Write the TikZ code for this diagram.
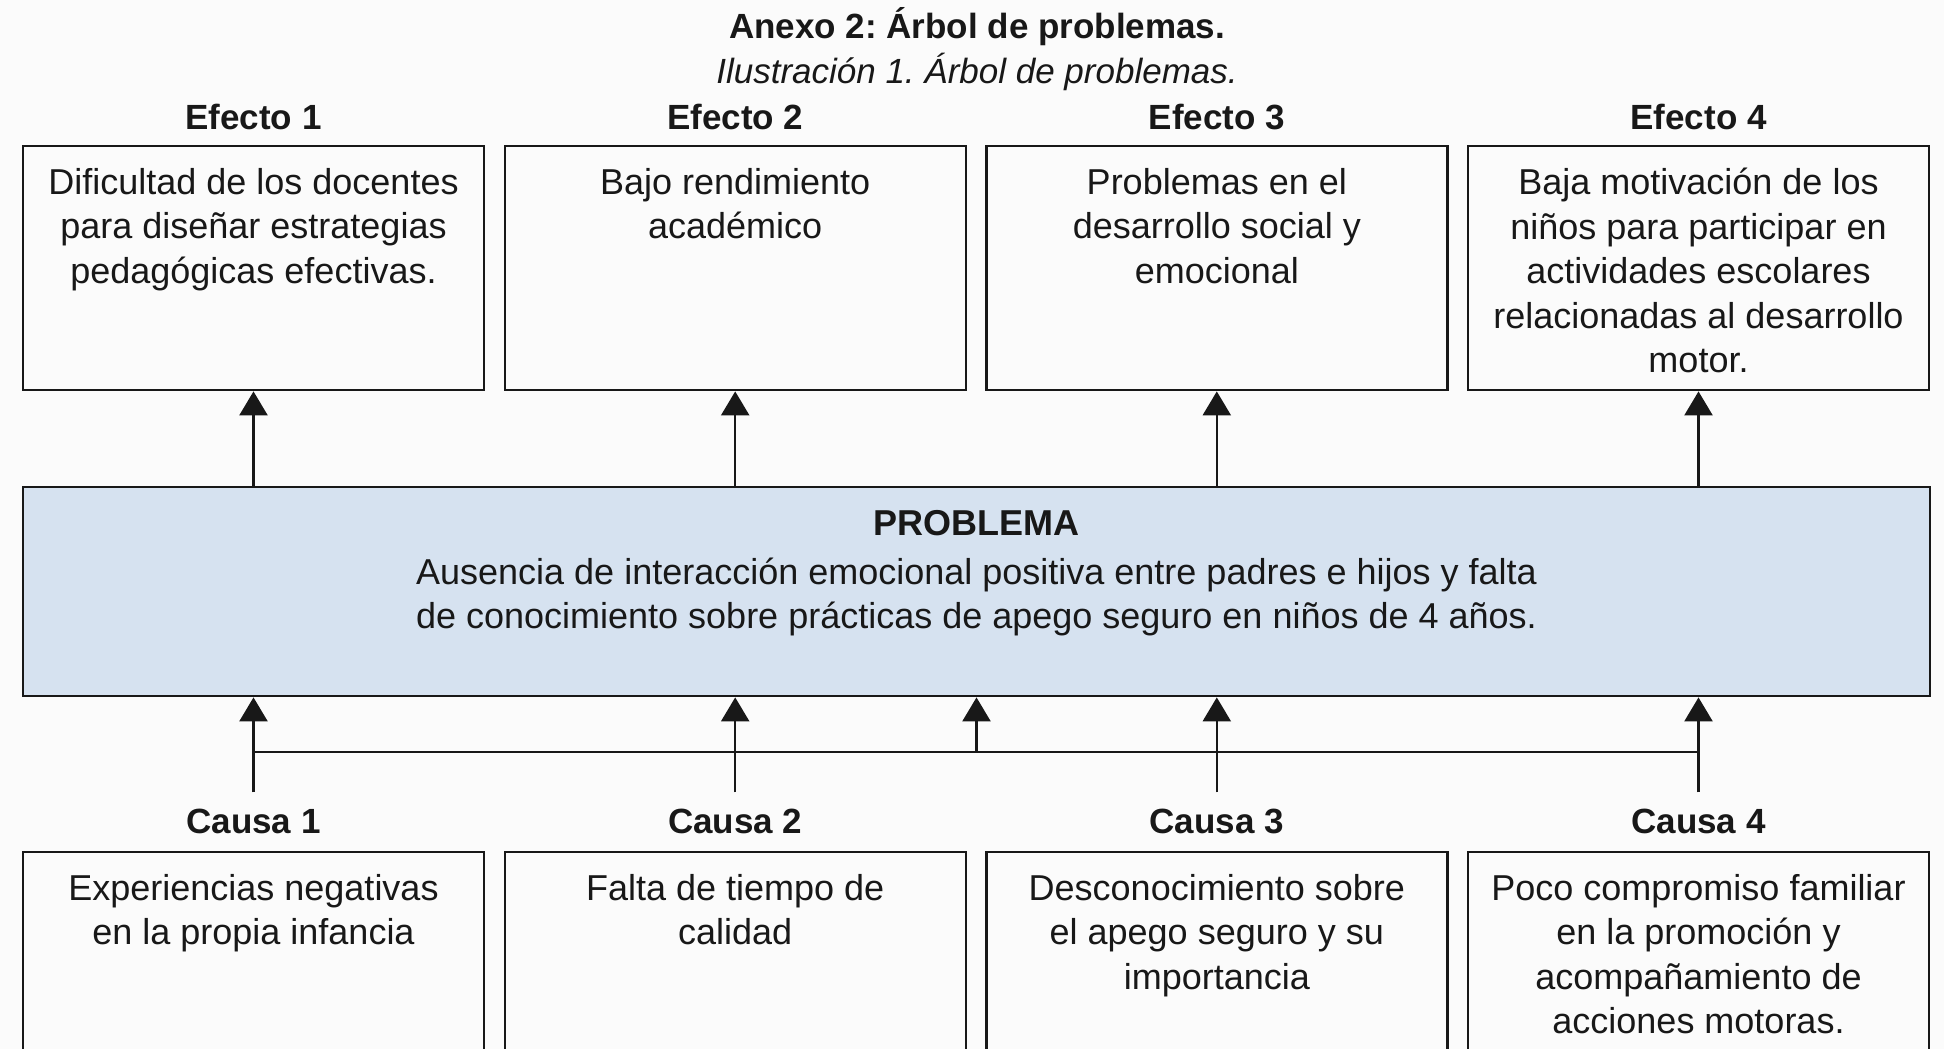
\documentclass[tikz,border=0pt]{standalone}
\usepackage{fontspec}
\setmainfont{Liberation Sans}
\usepackage{xcolor}
\usetikzlibrary{positioning}
\usetikzlibrary{arrows.meta}
\frenchspacing

\definecolor{probfill}{RGB}{214,226,240}
\definecolor{ink}{RGB}{24,24,24}
\definecolor{paper}{RGB}{251,251,251}

\tikzset{
  box/.style={draw=ink, line width=1.2pt, minimum width=230.5pt, inner sep=0pt, anchor=north},
  effbox/.style={box, minimum height=122pt},
  causebox/.style={box, minimum height=99.5pt},
  boxtext/.style={align=center, inner sep=0pt, anchor=north, text=ink, font=\fontsize{18}{22.25}\selectfont},
  lbl/.style={inner sep=0pt, text=ink, font=\bfseries\fontsize{17.5}{21}\selectfont},
  arr/.style={draw=ink, line width=1.2pt, -{Triangle[width=14pt,length=12pt]}},
  bar/.style={draw=ink, line width=1.2pt}
}

\begin{document}
\begin{tikzpicture}[x=0.5pt, y=-0.5pt]
					% Page
					\fill[paper] (0,0) rectangle (1944,1049);
					\useasboundingbox (0,0) rectangle (1944,1049);
					% Title
					\node[lbl] (title) at (977,27) {Anexo 2: Árbol de problemas.};
					\node[lbl, font=\itshape\fontsize{17.5}{21}\selectfont] (subtitle) at (977,72) {Ilustración 1. Árbol de problemas.};
					% Effects
					\node[effbox] (e1) at (253.5,145) {};
					\node[effbox] (e2) at (735.2,145) {};
					\node[effbox] (e3) at (1216.8,145) {};
					\node[effbox] (e4) at (1698.5,145) {};
					\node[lbl, above=7.25pt of e1] (el1) {Efecto 1};
					\node[lbl, above=7.25pt of e2] (el2) {Efecto 2};
					\node[lbl, above=7.25pt of e3] (el3) {Efecto 3};
					\node[lbl, above=7.25pt of e4] (el4) {Efecto 4};
					\node[boxtext] (e1t) at ([yshift=-11.3pt]e1.north) {Dificultad de los docentes\\para diseñar estrategias\\pedagógicas efectivas.};
					\node[boxtext] (e2t) at ([yshift=-11.3pt]e2.north) {Bajo rendimiento\\académico};
					\node[boxtext] (e3t) at ([yshift=-11.3pt]e3.north) {Problemas en el\\desarrollo social y\\emocional};
					\node[boxtext] (e4t) at ([yshift=-11.3pt]e4.north) {Baja motivación de los\\niños para participar en\\actividades escolares\\relacionadas al desarrollo\\motor.};
					% Problem
					\node[box, minimum width=953.5pt, minimum height=104.5pt, fill=probfill] (prob) at (976.5,486) {};
					\node[boxtext] (probt) at ([yshift=-12pt]prob.north) {\textbf{PROBLEMA}\\[2pt]Ausencia de interacción emocional positiva entre padres e hijos y falta\\de conocimiento sobre prácticas de apego seguro en niños de 4 años.};
					% Arrows to effects
					\draw[arr] (e1.south |- prob.north) -- (e1.south);
					\draw[arr] (e2.south |- prob.north) -- (e2.south);
					\draw[arr] (e3.south |- prob.north) -- (e3.south);
					\draw[arr] (e4.south |- prob.north) -- (e4.south);
					% Causes
					\node[causebox] (c1) at (253.5,851) {};
					\node[causebox] (c2) at (735.2,851) {};
					\node[causebox] (c3) at (1216.8,851) {};
					\node[causebox] (c4) at (1698.5,851) {};
					\node[lbl, above=8.25pt of c1] (cl1) {Causa 1};
					\node[lbl, above=8.25pt of c2] (cl2) {Causa 2};
					\node[lbl, above=8.25pt of c3] (cl3) {Causa 3};
					\node[lbl, above=8.25pt of c4] (cl4) {Causa 4};
					\node[boxtext] (c1t) at ([yshift=-11.3pt]c1.north) {Experiencias negativas\\en la propia infancia};
					\node[boxtext] (c2t) at ([yshift=-11.3pt]c2.north) {Falta de tiempo de\\calidad};
					\node[boxtext] (c3t) at ([yshift=-11.3pt]c3.north) {Desconocimiento sobre\\el apego seguro y su\\importancia};
					\node[boxtext] (c4t) at ([yshift=-11.3pt]c4.north) {Poco compromiso familiar\\en la promoción y\\acompañamiento de\\acciones motoras.};
					% Arrows from causes
					\coordinate (bus) at (976.5,752);
					\draw[arr] ([yshift=8.25pt]cl1.north) -- (cl1.north |- prob.south);
					\draw[arr] ([yshift=8.25pt]cl2.north) -- (cl2.north |- prob.south);
					\draw[arr] ([yshift=8.25pt]cl3.north) -- (cl3.north |- prob.south);
					\draw[arr] ([yshift=8.25pt]cl4.north) -- (cl4.north |- prob.south);
					\draw[bar] (cl1.north |- bus) -- (cl4.north |- bus);
					\draw[arr] (bus) -- (prob.south);
				\end{tikzpicture}
\end{document}
